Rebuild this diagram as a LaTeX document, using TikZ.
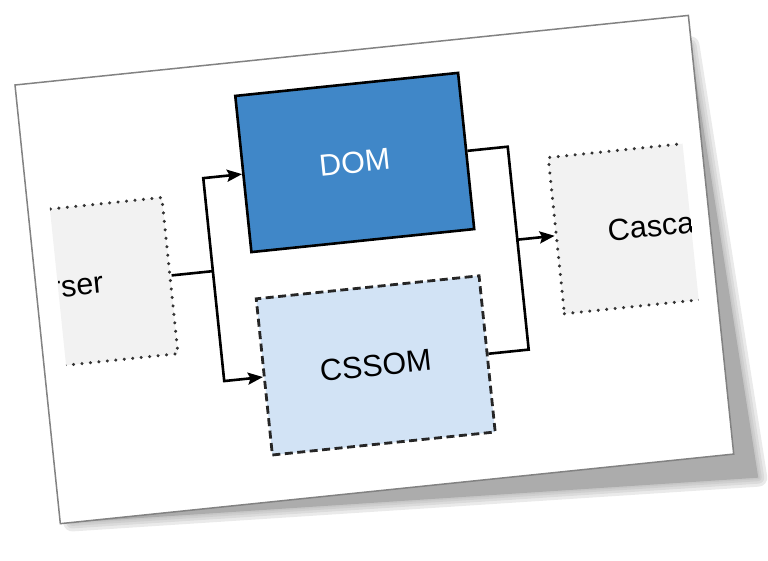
\documentclass[tikz,border=0pt]{standalone}
\usepackage{fontspec}
\setmainfont{Liberation Sans}
\usetikzlibrary{arrows.meta,positioning}

\definecolor{domblue}{RGB}{64,135,200}
\definecolor{cssomblue}{RGB}{210,227,245}
\definecolor{stagegray}{RGB}{242,242,242}
\definecolor{cardline}{RGB}{130,130,130}
\definecolor{shadowgray}{RGB}{172,172,172}

\begin{document}
\begin{tikzpicture}[x=1pt,y=1pt,>={Stealth[length=15pt,width=12pt,inset=2.5pt]},
      on grid,
      flow/.style={line width=2.6pt,line join=miter},
      base node/.style={minimum width=224pt,minimum height=157pt,inner sep=0pt,
      font=\fontsize{30.5}{36}\selectfont},
      stage node/.style={base node,fill=stagegray,draw=black!80,line width=3.4pt,
      dash pattern=on 0pt off 8.5pt,line cap=round},
      dom node/.style={base node,fill=domblue,draw=black,line width=2.6pt,text=white},
      cssom node/.style={base node,fill=cssomblue,draw=black!85,line width=2.8pt,
      dash pattern=on 8pt off 4.5pt}]

  \useasboundingbox (0,0) rectangle (768,-560);
  \begin{scope}[transform canvas={shift={(15pt,-85pt)},rotate=5.9}]

    %% THE CARD AND ITS SHADOW
    \foreach \w in {18,12,7,3}
      \draw[shadowgray,line width=\w pt,line join=round,opacity=0.25]
        (10,-10) -- (676,-30) -- (699,-467) -- (12,-441) -- cycle;
    \fill[shadowgray] (10,-10) -- (676,-30) -- (699,-467) -- (12,-441) -- cycle;
    \draw[cardline,fill=white,line width=1.5pt] (0,0) rectangle (677,-441);
    \clip (22,0) rectangle (658,-441);

    %% THE NODES
    \node[stage node] (parser) at (22.5,-205.5) {Parser};
    \node[dom node] (dom) [above right=93.5pt and 307.5pt of parser] {DOM};
    \node[cssom node] (cssom) [below right=110.5pt and 307.5pt of parser] {CSSOM};
    \node[stage node] (cascade) [right=612.5pt of parser] {Cascade};

    %% THE CONNECTORS
    \draw[flow] (parser.east) -- ++(41.5,0) coordinate (lbus);
    \draw[flow,->] (lbus) |- (dom);
    \draw[flow,->] (lbus) |- (cssom);
    \draw[flow] (dom.east) -- ++(40.5,0) coordinate (rbus) |- (cssom.east);
    \draw[flow,->] (rbus |- cascade.west) -- (cascade.west);
  \end{scope}
\end{tikzpicture}
\end{document}
